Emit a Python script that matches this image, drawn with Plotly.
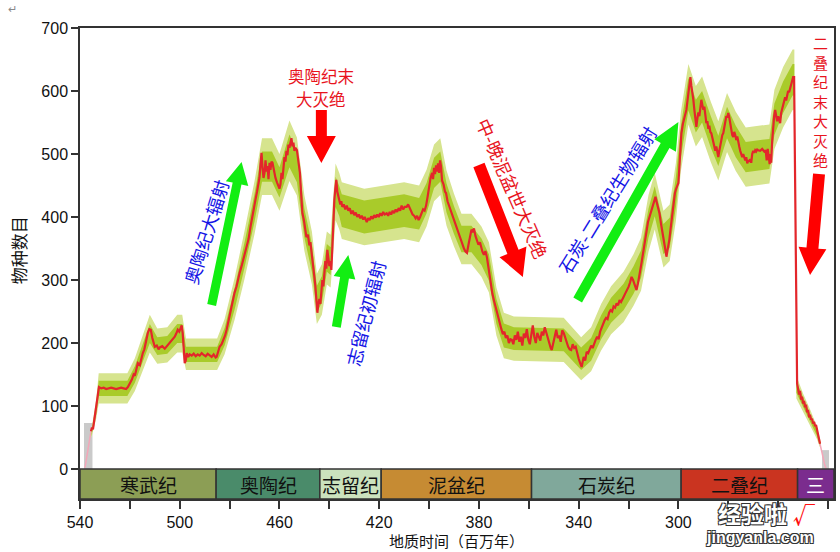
import math
import plotly.graph_objects as go

# ---------------- data ----------------
# Diversity curve (age in Myr, number of taxa)
line_age = [535.6,535.2,534.8,534.4,534.0,533.6,533.2,532.8,532.4,531.5,530.5,529.5,528.5,527.5,526.5,525.5,524.5,523.5,522.5,521.5,
            520.8,520.0,519.2,518.5,518.0,517.3,516.8,516.0,515.3,514.8,514.2,513.5,512.8,512.2,511.6,511.0,510.5,510.0,509.2,508.5,
            508.0,507.0,506.0,505.2,504.5,503.7,503.0,502.0,501.4,500.8,500.2,499.6,499.2,498.8,498.4,498.0,497.6,497.2,496.6,496.0,
            495.2,494.4,493.6,492.8,492.0,491.2,490.4,489.6,488.8,488.0,487.2,486.4,485.6,485.2,484.6,484.0,483.2,482.4,481.8,481.2,
            480.5,479.8,479.2,478.6,478.0,477.2,476.5,476.0,475.2,474.4,473.6,473.2,472.4,471.6,470.8,470.2,469.6,469.0,468.4,468.0,
            467.6,467.2,466.8,466.4,466.0,465.6,465.2,464.8,464.4,464.0,463.6,463.2,462.8,462.2,461.6,461.0,460.4,460.0,459.6,459.2,
            458.8,458.4,458.0,457.6,457.2,456.8,456.4,456.0,455.6,455.2,454.8,454.4,454.0,453.6,453.0,452.4,451.8,451.2,450.8,450.2,
            449.8,449.2,448.6,448.0,447.6,447.2,446.8,446.4,446.0,445.6,445.2,444.8,444.4,444.0,443.6,443.2,442.8,442.4,442.0,441.6,
            441.2,440.8,440.4,440.0,439.6,439.2,438.8,438.4,438.0,437.6,437.2,436.8,436.4,436.0,435.6,435.2,434.8,434.2,433.6,433.0,
            432.4,431.8,431.2,430.6,430.0,429.4,428.8,428.2,427.6,427.0,426.4,425.8,425.0,424.4,423.8,423.2,422.6,422.0,421.4,420.8,
            420.2,419.6,419.0,418.4,417.8,417.0,416.4,415.8,415.2,414.6,414.0,413.4,412.8,412.2,411.6,411.0,410.4,409.8,409.0,408.4,
            407.8,407.2,406.6,406.0,405.4,404.8,404.2,403.6,403.0,402.4,401.8,401.2,400.6,400.0,399.4,398.8,398.4,398.0,397.6,397.2,
            396.8,396.4,396.0,395.6,395.2,394.8,394.2,393.6,393.2,392.6,392.0,391.4,390.8,390.2,389.6,389.0,388.4,387.8,387.2,386.6,
            386.0,385.4,384.8,384.2,383.6,383.0,382.4,382.0,381.4,380.8,380.2,379.6,379.2,378.6,378.0,377.4,376.8,376.2,375.6,375.2,
            374.6,374.0,373.4,372.8,372.2,371.6,371.0,370.4,369.8,369.2,368.6,368.0,367.4,366.8,366.2,365.6,365.0,364.4,363.8,363.2,
            362.6,362.0,361.4,360.8,360.2,359.6,359.0,358.4,357.8,357.2,356.6,356.0,355.4,354.8,354.2,353.6,353.0,352.4,351.8,351.2,
            350.8,350.2,349.6,349.0,348.4,347.8,347.2,346.6,346.0,345.4,344.8,344.2,343.6,343.0,342.4,341.8,341.2,340.6,340.0,339.4,
            338.8,338.4,338.0,337.4,336.8,336.2,335.6,335.0,334.4,333.8,333.2,332.6,332.0,331.4,330.8,330.2,329.6,329.0,328.4,327.8,
            327.2,326.6,326.0,325.4,324.8,324.2,323.6,323.0,322.4,322.0,321.4,320.8,320.0,319.4,318.8,318.2,317.6,316.8,316.2,315.6,
            314.8,314.2,313.6,312.8,312.2,311.6,310.8,310.2,309.6,309.2,308.8,308.4,307.6,307.0,306.4,306.0,305.4,304.8,304.2,303.6,
            303.2,302.6,302.0,301.4,300.8,300.0,299.6,299.2,298.8,298.2,297.6,296.8,296.2,295.6,295.2,294.8,294.4,294.0,293.6,293.2,
            292.8,292.4,292.0,291.6,291.2,290.8,290.4,290.0,289.6,289.2,288.8,288.4,288.0,287.6,287.2,286.8,286.4,286.0,285.6,285.2,
            284.8,284.4,284.0,283.6,283.2,282.8,282.4,282.0,281.6,281.2,280.8,280.4,280.0,279.6,279.2,278.8,278.4,278.0,277.6,277.2,
            276.8,276.4,276.0,275.6,275.2,274.8,274.4,274.0,273.6,273.2,272.8,272.4,272.0,271.6,271.2,270.8,270.4,270.0,269.6,269.2,
            268.8,268.4,268.0,267.2,266.4,265.6,265.0,264.6,264.2,263.8,263.4,263.0,262.8,262.4,262.0,261.6,261.2,260.8,260.4,260.0,
            259.6,259.2,258.8,258.4,258.0,257.6,257.2,256.8,256.4,256.0,255.6,255.2,254.8,254.4,254.0,253.6,
            252.4,252.0,251.6,251.2,250.8,250.4,250.0,249.6,249.2,248.8,248.4,248.0,247.6,247.2,246.8,246.4,246.0,245.6,245.2,244.8,
            244.4,244.0,243.6,243.2]
line_val = [60,66,63,75,82,98,115,126,130,128,129,127,128,129,128,127,128,129,128,127,
            130,135,142,150,148,160,168,165,178,184,190,205,216,222,221,208,198,194,196,190,
            193,195,191,195,198,202,205,210,215,221,218,225,228,215,190,168,172,184,178,182,
            180,183,179,182,180,184,181,179,183,180,178,182,177,178,186,194,198,205,212,221,
            235,248,262,270,280,290,305,311,322,335,345,352,365,385,400,412,428,440,455,463,
            485,502,478,462,470,490,472,481,460,486,475,488,486,470,462,455,448,445,452,470,
            460,480,495,488,505,498,515,510,522,525,512,518,505,510,506,490,470,430,406,395,
            380,368,372,355,360,348,330,318,305,290,270,248,262,270,262,284,300,290,321,330,
            318,348,335,322,330,316,350,395,427,445,459,440,432,427,420,425,416,420,412,418,
            410,414,405,410,403,407,400,404,398,402,396,400,392,398,395,401,397,403,399,404,
            400,406,402,408,404,406,402,408,404,410,406,412,408,414,410,418,412,416,416,420,
            414,410,404,402,398,402,395,400,406,412,410,418,432,450,462,470,460,478,468,482,
            472,485,470,490,480,458,452,440,438,425,418,412,405,398,390,385,378,372,365,358,
            350,345,343,356,372,380,376,382,370,362,356,360,352,345,340,346,336,318,300,289,
            278,268,258,248,238,228,222,214,218,208,212,200,206,205,198,212,205,218,202,210,
            196,215,208,222,205,198,210,228,210,200,216,210,204,218,212,225,216,206,198,192,
            189,200,212,221,208,212,202,220,216,208,200,194,190,189,198,192,194,182,175,168,
            162,170,178,172,186,184,190,196,192,200,205,210,206,218,224,232,236,240,238,248,
            252,250,258,256,263,260,268,265,272,273,278,282,289,296,305,300,292,284,295,312,
            327,342,358,379,392,400,411,420,428,432,425,418,406,390,378,368,352,337,350,365,
            379,400,422,438,446,454,480,510,533,548,560,570,590,610,622,608,598,586,570,558,
            543,556,566,560,575,586,578,570,575,560,549,552,540,545,535,533,525,518,510,505,
            512,500,495,505,515,522,530,533,545,552,560,558,565,558,548,540,530,527,535,530,
            522,528,522,512,505,498,495,500,492,490,495,485,490,488,492,486,500,505,502,506,
            504,507,506,505,508,504,506,490,508,495,484,500,486,520,545,560,570,558,552,560,
            555,549,565,572,580,586,590,585,596,600,598,606,610,616,622,622,
            136,128,118,124,110,115,104,108,98,102,90,94,82,86,78,80,72,75,68,70,
            62,55,48,40]

# Uncertainty envelopes (smoothed centre, outer and inner half-widths)
band_age = [535.5,533.5,532.5,521,518,515,512,509,505,501,499,497.5,485,482,478,474,470,467,463,460,
            456,453,450,447,445,443,441,439.5,437.5,436,435,426,410,404,401,398,395.5,393,390,387,
            383,379,376,373,370,366,346,339,335,331,327,322,318,315,312,309.5,306,303.5,301,299,
            296,293,290.5,287,284,280.5,277,273,263.5,261.5,258,254.2,253.5]
band_mid = [55,95,128,128,150,182,215,195,197,215,215,182,182,210,270,340,415,480,480,455,
            505,480,390,335,270,285,335,330,440,425,410,400,410,405,430,470,480,430,395,365,
            365,345,320,250,212,207,205,175,190,225,252,273,300,325,390,425,365,375,440,520,
            595,560,575,535,505,550,520,495,500,555,590,618,618]
band_outer = [6,15,24,24,26,28,30,28,28,30,30,25,25,28,33,38,42,45,45,45,
              48,46,44,42,40,40,42,42,45,45,45,45,45,45,45,45,45,44,42,40,
              40,40,40,38,36,35,35,34,35,37,38,40,41,42,45,45,45,45,46,47,
              48,48,48,48,47,47,47,47,47,47,48,48,48]
band_inner = [3,8,12,12,13,14,15,14,14,15,15,12,12,14,17,20,22,24,24,24,
              26,25,23,22,21,21,22,22,24,24,26,26,26,25,24,24,24,23,22,21,
              21,21,21,20,19,18,18,18,18,19,20,21,22,22,23,24,24,24,24,25,
              26,26,25,25,24,25,25,24,24,25,25,25,25]
tri_band_age = [252.7,250,247,244.5,243]
tri_band_mid = [130,105,80,58,38]
tri_band_outer = [18,15,13,10,6]
tri_band_inner = [9,8,7,5,3]

# Poorly sampled ends (pink) and grey boxes
pink_start_age = [538.0,537.4,536.8,536.2,535.6]
pink_start_val = [2,18,32,48,60]
pink_end_age = [243.2,242.6,242.0,241.4,240.8]
pink_end_val = [40,28,18,8,1]
grey_x0 = [538.4, 242.4]
grey_x1 = [535.0, 239.6]
grey_top = [73, 30]

# Geological periods
period_names = ["寒武纪", "奥陶纪", "志留纪", "泥盆纪", "石炭纪", "二叠纪", "三"]
period_start = [541.0, 485.4, 443.8, 419.2, 358.9, 298.9, 252.2]
period_end = [485.4, 443.8, 419.2, 358.9, 298.9, 252.2, 201.3]
period_colors = ["#8C9E55", "#4A8B6A", "#CBE2BD", "#C68B33", "#80A89B", "#CA3420", "#7B2C8E"]
period_text_colors = ["#111111"] * 6 + ["#FFFFFF"]

x_tickvals = list(range(540, 239, -20))
x_ticklabels = {540: "540", 500: "500", 460: "460", 420: "420", 380: "380", 340: "340", 300: "300"}
y_tickvals = [0, 100, 200, 300, 400, 500, 600, 700]

# ---------------- layout helpers ----------------
W, H = 840, 552
ML, MR, MT, MB = 80, 4, 28, 53
X_RANGE = [540, 237.6]
Y_RANGE = [-47.6, 700]
PW, PH = W - ML - MR, H - MT - MB


def to_paper(xp, yp):
    return (xp - ML) / PW, (H - MB - yp) / PH


def arrow_path(tail, tip, shaft_w, head_w, head_len):
    dx, dy = tip[0] - tail[0], tip[1] - tail[1]
    L = math.hypot(dx, dy)
    ux, uy = dx / L, dy / L
    nx, ny = -uy, ux
    bx, by = tip[0] - ux * head_len, tip[1] - uy * head_len
    pts = [(tail[0] + nx * shaft_w / 2, tail[1] + ny * shaft_w / 2),
           (bx + nx * shaft_w / 2, by + ny * shaft_w / 2),
           (bx + nx * head_w / 2, by + ny * head_w / 2),
           tip,
           (bx - nx * head_w / 2, by - ny * head_w / 2),
           (bx - nx * shaft_w / 2, by - ny * shaft_w / 2),
           (tail[0] - nx * shaft_w / 2, tail[1] - ny * shaft_w / 2)]
    pp = [to_paper(*p) for p in pts]
    return "M " + " L ".join(f"{x:.5f},{y:.5f}" for x, y in pp) + " Z"


FONT = "Liberation Sans, Arial, Noto Sans CJK SC, sans-serif"
CJK = "Noto Sans CJK SC, Liberation Sans, sans-serif"
RED_TXT = "#E8141E"
BLUE_TXT = "#1414E6"
GREEN = "#12EE12"
RED = "#FF0000"

fig = go.Figure()


def band_polygon(ages, mid, half):
    up = [m + h for m, h in zip(mid, half)]
    lo = [m - h for m, h in zip(mid, half)]
    return ages + ages[::-1], up + lo[::-1]


for ages, mid, outer, inner in [(band_age, band_mid, band_outer, band_inner),
                                (tri_band_age, tri_band_mid, tri_band_outer, tri_band_inner)]:
    bx, by = band_polygon(ages, mid, outer)
    fig.add_trace(go.Scatter(x=bx, y=by, fill="toself", fillcolor="#D6E48E",
                             line=dict(width=0), mode="lines", hoverinfo="skip"))
    bx, by = band_polygon(ages, mid, inner)
    fig.add_trace(go.Scatter(x=bx, y=by, fill="toself", fillcolor="#A9CB2A",
                             line=dict(width=0), mode="lines", hoverinfo="skip"))

fig.add_trace(go.Scatter(x=pink_start_age, y=pink_start_val, mode="lines",
                         line=dict(color="#F4A6B8", width=1.5)))
fig.add_trace(go.Scatter(x=pink_end_age, y=pink_end_val, mode="lines",
                         line=dict(color="#F4A6B8", width=1.5)))
fig.add_trace(go.Scatter(x=line_age, y=line_val, mode="lines",
                         line=dict(color="#E3262B", width=2.2)))

shapes = []
for x0, x1, top in zip(grey_x0, grey_x1, grey_top):
    shapes.append(dict(type="rect", xref="x", yref="y", x0=x0, x1=x1, y0=0, y1=top,
                       fillcolor="#CACACA", line=dict(width=0), layer="below"))

annotations = []
for name, s, e, c, tc in zip(period_names, period_start, period_end, period_colors, period_text_colors):
    x0 = min(s, X_RANGE[0])
    x1 = max(e, X_RANGE[1])
    shapes.append(dict(type="rect", xref="x", yref="y", x0=x0, x1=x1, y0=Y_RANGE[0], y1=0,
                       fillcolor=c, line=dict(color="#333333", width=1.5)))
    annotations.append(dict(x=(x0 + x1) / 2, y=Y_RANGE[0] / 2, xref="x", yref="y", text=name,
                            showarrow=False, font=dict(family=CJK, size=19, color=tc)))

# Block arrows (pixel geometry -> paper)
arrows = [
    ((212, 305), (242, 162), 9, 23, 22, GREEN),
    ((337, 327), (349, 255), 9, 22, 23, GREEN),
    ((322, 110), (322, 163), 11, 29, 27, RED),
    ((480, 165), (524, 277), 12, 29, 27, RED),
    ((579, 300), (680, 122), 10, 25, 27, GREEN),
    ((821, 174), (812, 275), 12, 28, 27, RED),
]
for tail, tip, sw, hw, hl, col in arrows:
    shapes.append(dict(type="path", xref="paper", yref="paper",
                       path=arrow_path(tail, tip, sw, hw, hl),
                       fillcolor=col, line=dict(width=0)))


def add_text(text, xp, yp, color, size=18, angle=0, family=CJK, **kw):
    px_, py_ = to_paper(xp, yp)
    annotations.append(dict(x=px_, y=py_, xref="paper", yref="paper", text=text, showarrow=False,
                            textangle=angle, xanchor="center", yanchor="middle",
                            font=dict(family=family, size=size, color=color, **kw)))


add_text("奥陶纪大辐射", 206, 232, BLUE_TXT, 18, -72.7)
add_text("志留纪初辐射", 366, 313, BLUE_TXT, 18, -75.8)
add_text("中-晚泥盆世大灭绝", 514, 188, RED_TXT, 18, 66.6)
add_text("石炭-二叠纪生物辐射", 608, 200, BLUE_TXT, 18, -58.3)
add_text("奥陶纪末", 322, 76, RED_TXT, 16.5)
add_text("大灭绝", 322, 99, RED_TXT, 16.5)
# vertical stacked title (one text block, one character per line)
add_text("<br>".join("二叠纪末大灭绝"), 822, 101, RED_TXT, 15)

# axis titles
add_text("物种数目", 18, 250, "#111111", 17, -90)
add_text("地质时间（百万年）", 457, 540.5, "#111111", 15)

# page mark and watermark
add_text("↵", 12, 8, "#888888", 11)
outline = "1px 1px 0 #333, -1px -1px 0 #333, 1px -1px 0 #333, -1px 1px 0 #333"
add_text("经验啦", 754, 513, "#FFFFFF", 23, shadow=outline, weight="bold")
add_text("√", 806, 513, "#FF1010", 22, weight="bold")
add_text("jingyanla.com", 762, 537, "#FFFFFF", 16, family=FONT, shadow=outline, weight="bold")

fig.update_layout(
    width=W, height=H,
    margin=dict(l=ML, r=MR, t=MT, b=MB, pad=0),
    paper_bgcolor="white", plot_bgcolor="white",
    showlegend=False,
    shapes=shapes, annotations=annotations,
    font=dict(family=FONT, size=16, color="#111111"),
    xaxis=dict(range=X_RANGE, tickvals=x_tickvals,
               ticktext=[x_ticklabels.get(v, "") for v in x_tickvals],
               showgrid=False, zeroline=False, showline=True, mirror=True,
               linecolor="#333333", linewidth=1.5, ticks="outside", ticklen=8,
               tickwidth=1.5, tickcolor="#333333", tickfont=dict(size=16, color="#111111")),
    yaxis=dict(range=Y_RANGE, tickvals=y_tickvals, showgrid=False, zeroline=False,
               showline=True, mirror=True, linecolor="#333333", linewidth=1.5,
               ticks="outside", ticklen=7, tickwidth=1.5, tickcolor="#333333",
               tickfont=dict(size=16, color="#111111")),
)

fig.write_html("out.html")
